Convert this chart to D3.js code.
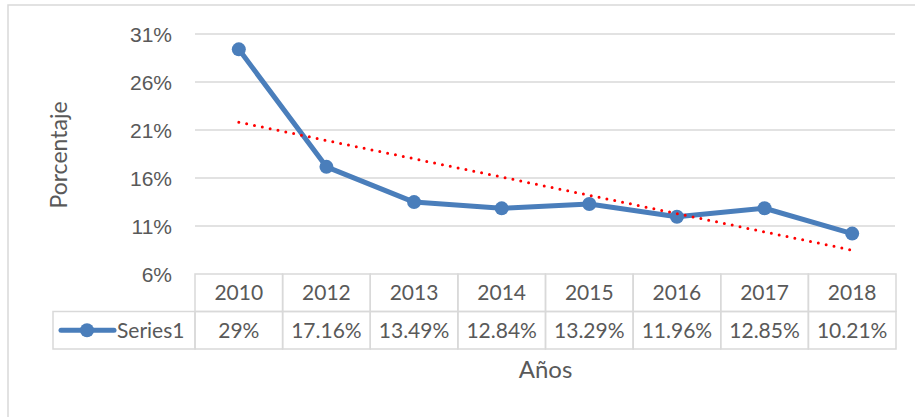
<!DOCTYPE html>
<html lang="es">
<head>
<meta charset="utf-8">
<title>Porcentaje por año</title>
<script src="https://cdn.jsdelivr.net/npm/d3@7"></script>
<style>
  body { margin: 0; background: #fff; font-family: Lato, "Open Sans", sans-serif; }
  svg text { fill: #595959; }
  .grid line { stroke: #d9d9d9; stroke-width: 1.5px; }
  .cell { fill: none; stroke: #d9d9d9; stroke-width: 1.5px; }
</style>
</head>
<body>
<div id="chart"></div>
<script>
// data
const years = ["2010", "2012", "2013", "2014", "2015", "2016", "2017", "2018"];
const values = [29.4, 17.16, 13.49, 12.84, 13.29, 11.96, 12.85, 10.21];
const valueLabels = ["29%", "17.16%", "13.49%", "12.84%", "13.29%", "11.96%", "12.85%", "10.21%"];
const yTicks = [6, 11, 16, 21, 26, 31];
const seriesName = "Series1";

const W = 915, H = 417;
const plot = { left: 195, right: 896, top: 34, bottom: 274 };
const rowH = 37.5;
const blue = "#4a7ebb";
const fs = "21px";

const svg = d3.select("#chart").append("svg")
  .attr("width", W).attr("height", H);

// chart area border (cropped on the right and bottom)
svg.append("rect")
  .attr("x", 8).attr("y", 5).attr("width", W + 20).attr("height", H + 20)
  .attr("fill", "none").attr("stroke", "#d9d9d9").attr("stroke-width", 1.5);

const x = d3.scaleBand().domain(years).range([plot.left, plot.right]).padding(0);
const y = d3.scaleLinear().domain([6, 31]).range([plot.bottom, plot.top]);

// gridlines
svg.append("g").attr("class", "grid")
  .selectAll("line").data(yTicks.slice(1)).join("line")
  .attr("x1", plot.left).attr("x2", plot.right - 1)
  .attr("y1", d => y(d)).attr("y2", d => y(d));

// y axis labels
const yAxis = d3.axisLeft(y).tickValues(yTicks).tickFormat(d => d + "%").tickSize(0).tickPadding(0);
svg.append("g")
  .attr("transform", "translate(" + (plot.left - 23) + ",0)")
  .call(yAxis)
  .call(g => g.select(".domain").remove())
  .selectAll("text")
  .style("font-size", fs)
  .attr("fill", "#595959")
  .attr("dy", "0.35em");

// axis titles
svg.append("text")
  .attr("transform", "translate(67,155) rotate(-90)")
  .attr("text-anchor", "middle")
  .style("font-size", "23px")
  .text("Porcentaje");

svg.append("text")
  .attr("x", (plot.left + plot.right) / 2).attr("y", 378)
  .attr("text-anchor", "middle")
  .style("font-size", "24px")
  .text("Años");

// series line
const cx = d => x(d) + x.bandwidth() / 2;
const pts = years.map((yr, i) => [cx(yr), y(values[i])]);

svg.append("path")
  .attr("d", d3.line()(pts))
  .attr("fill", "none").attr("stroke", blue)
  .attr("stroke-width", 5).attr("stroke-linejoin", "round");

svg.append("g").selectAll("circle").data(pts).join("circle")
  .attr("cx", d => d[0]).attr("cy", d => d[1]).attr("r", 7)
  .attr("fill", blue);

// linear trendline (least squares on category index)
const n = values.length;
const xs = d3.range(1, n + 1);
const mx = d3.mean(xs), my = d3.mean(values);
const slope = d3.sum(xs, (v, i) => (v - mx) * (values[i] - my)) / d3.sum(xs, v => (v - mx) * (v - mx));
const icpt = my - slope * mx;
svg.append("path")
  .attr("d", d3.line()([
    [cx(years[0]), y(icpt + slope * 1)],
    [cx(years[n - 1]), y(icpt + slope * n)]
  ]))
  .attr("fill", "none").attr("stroke", "#ff0000")
  .attr("stroke-width", 3).attr("stroke-linecap", "round")
  .attr("stroke-dasharray", "0 8");

// data table
const table = svg.append("g");
const top0 = plot.bottom, top1 = plot.bottom + rowH;

years.forEach((yr, i) => {
  table.append("rect").attr("class", "cell")
    .attr("x", x(yr)).attr("y", top0).attr("width", x.bandwidth()).attr("height", rowH);
  table.append("rect").attr("class", "cell")
    .attr("x", x(yr)).attr("y", top1).attr("width", x.bandwidth()).attr("height", rowH);
  table.append("text")
    .attr("x", cx(yr)).attr("y", top0 + rowH / 2).attr("dy", "0.35em")
    .attr("text-anchor", "middle").style("font-size", fs).text(yr);
  table.append("text")
    .attr("x", cx(yr)).attr("y", top1 + rowH / 2).attr("dy", "0.35em")
    .attr("text-anchor", "middle").style("font-size", fs).text(valueLabels[i]);
});

// legend cell
const legX = 53;
table.append("rect").attr("class", "cell")
  .attr("x", legX).attr("y", top1).attr("width", plot.left - legX).attr("height", rowH);
table.append("line")
  .attr("x1", 61).attr("x2", 114)
  .attr("y1", top1 + rowH / 2).attr("y2", top1 + rowH / 2)
  .attr("stroke", blue).attr("stroke-width", 5).attr("stroke-linecap", "round");
table.append("circle")
  .attr("cx", 87).attr("cy", top1 + rowH / 2).attr("r", 7).attr("fill", blue);
table.append("text")
  .attr("x", 117).attr("y", top1 + rowH / 2).attr("dy", "0.35em")
  .style("font-size", fs).text(seriesName);
</script>
</body>
</html>
